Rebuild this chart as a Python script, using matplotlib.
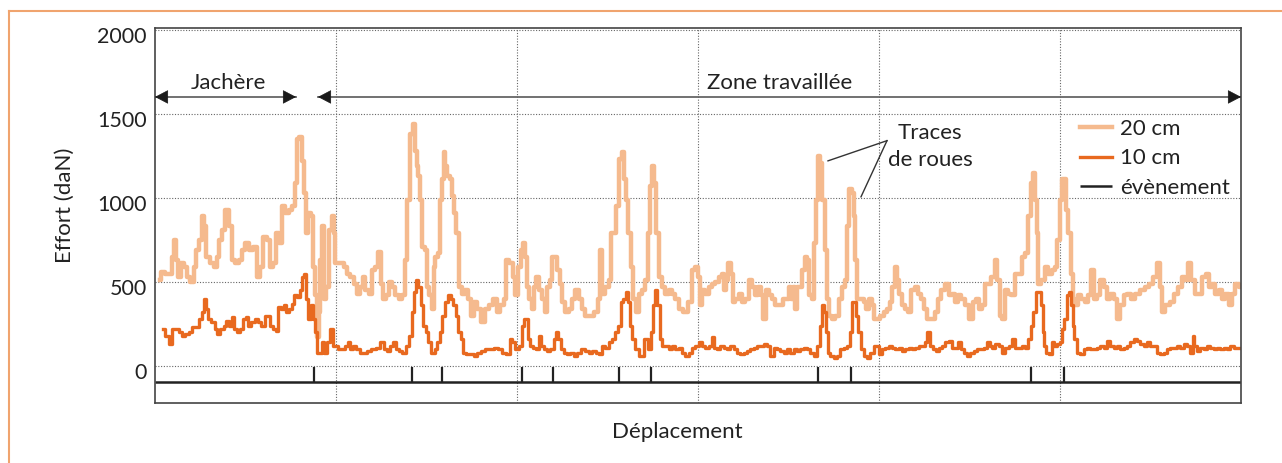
import matplotlib
matplotlib.use("Agg")
import matplotlib.pyplot as plt
import matplotlib.transforms as mtransforms
from matplotlib.lines import Line2D

# Effort de traction le long du déplacement (position en unités arbitraires, 0..1086)
light_20cm = [
    (5, 510), (7, 560), (12, 550), (16, 550), (17, 650), (20, 750), (22, 630), (24, 530),
    (28, 610), (30, 590), (33, 530), (37, 500), (40, 590), (42, 690), (45, 750), (48, 890),
    (50, 830), (52, 650), (57, 610), (60, 590), (63, 650), (65, 750), (68, 810), (72, 930),
    (75, 830), (78, 630), (82, 610), (85, 630), (88, 690), (92, 730), (95, 690), (100, 710),
    (103, 530), (106, 590), (110, 770), (113, 750), (116, 590), (119, 610), (122, 790), (126, 730),
    (128, 950), (132, 910), (135, 930), (138, 950), (141, 1090), (142, 1350), (145, 1360), (148, 1220),
    (150, 1030), (152, 790), (154, 910), (157, 890), (158, 590), (161, 420), (163, 170), (164, 320),
    (166, 630), (167, 830), (168, 830), (170, 400), (172, 470), (175, 810), (178, 890), (179, 790),
    (180, 610), (187, 610), (190, 590), (193, 550), (197, 530), (200, 490), (203, 430), (207, 470),
    (208, 530), (212, 450), (215, 430), (218, 570), (222, 590), (224, 680), (227, 490), (229, 400),
    (232, 420), (235, 500), (238, 470), (242, 420), (245, 400), (248, 420), (251, 630), (253, 990),
    (256, 1380), (259, 1440), (261, 1280), (262, 1190), (264, 1130), (266, 990), (268, 710), (271, 690),
    (272, 470), (275, 420), (278, 340), (279, 590), (281, 650), (284, 670), (286, 990), (288, 1110),
    (289, 1270), (291, 1190), (293, 1130), (296, 1110), (298, 1010), (300, 910), (302, 790), (305, 470),
    (308, 430), (312, 450), (314, 400), (318, 300), (320, 380), (324, 340), (328, 260), (332, 340),
    (336, 360), (340, 400), (343, 320), (347, 360), (350, 400), (352, 630), (356, 610), (359, 530),
    (361, 420), (364, 590), (367, 690), (369, 730), (371, 650), (372, 470), (375, 400), (378, 340),
    (380, 470), (382, 530), (385, 450), (388, 400), (391, 320), (393, 470), (396, 510), (398, 650),
    (401, 650), (403, 570), (406, 490), (408, 380), (412, 320), (415, 340), (418, 400), (422, 450),
    (425, 400), (428, 340), (432, 300), (437, 300), (441, 320), (444, 400), (446, 690), (448, 430),
    (452, 470), (455, 510), (457, 790), (460, 790), (462, 950), (465, 1230), (468, 1270), (470, 1110),
    (472, 990), (474, 790), (477, 590), (479, 400), (482, 320), (485, 430), (488, 450), (492, 510),
    (493, 790), (496, 1070), (498, 1190), (500, 1090), (502, 790), (505, 530), (508, 470), (512, 430),
    (515, 450), (518, 430), (522, 400), (526, 340), (530, 320), (535, 380), (538, 570), (542, 590),
    (543, 530), (546, 360), (548, 450), (552, 430), (555, 470), (558, 490), (562, 500), (565, 530),
    (568, 550), (570, 450), (572, 510), (574, 610), (577, 550), (578, 380), (582, 400), (585, 430),
    (588, 380), (592, 400), (595, 510), (598, 470), (602, 420), (604, 470), (607, 420), (609, 280),
    (612, 450), (615, 420), (618, 400), (622, 360), (626, 360), (629, 400), (632, 400), (635, 470),
    (637, 400), (639, 470), (641, 340), (643, 470), (646, 470), (648, 570), (651, 650), (653, 630),
    (655, 420), (658, 400), (660, 730), (662, 990), (663, 1250), (666, 1210), (668, 990), (669, 990),
    (671, 690), (672, 400), (675, 300), (678, 280), (682, 300), (685, 400), (688, 470), (691, 510),
    (693, 830), (695, 1050), (698, 1030), (699, 890), (701, 630), (703, 400), (707, 400), (710, 380),
    (712, 340), (715, 400), (718, 360), (720, 280), (723, 280), (727, 300), (730, 320), (733, 340),
    (736, 380), (738, 470), (741, 590), (743, 510), (745, 430), (748, 360), (751, 340), (754, 320),
    (758, 450), (761, 470), (764, 430), (767, 400), (770, 340), (773, 280), (778, 280), (781, 320),
    (784, 400), (788, 450), (792, 490), (795, 420), (798, 430), (801, 380), (804, 420), (808, 400),
    (812, 360), (816, 280), (819, 380), (822, 400), (825, 340), (828, 360), (832, 490), (834, 490),
    (838, 530), (841, 630), (843, 510), (846, 300), (848, 280), (851, 450), (854, 430), (858, 420),
    (861, 550), (865, 550), (868, 650), (872, 670), (874, 890), (877, 1090), (878, 1150), (881, 990),
    (882, 790), (884, 490), (888, 510), (891, 590), (895, 550), (898, 570), (901, 590), (903, 750),
    (906, 990), (908, 1110), (910, 1110), (912, 930), (914, 790), (917, 550), (918, 400), (921, 360),
    (924, 420), (928, 400), (931, 380), (934, 420), (938, 570), (940, 400), (943, 420), (947, 510),
    (950, 470), (953, 400), (957, 430), (960, 400), (963, 280), (967, 360), (970, 420), (974, 430),
    (978, 400), (982, 430), (987, 450), (992, 470), (996, 490), (1000, 530), (1003, 610), (1006, 470),
    (1008, 320), (1012, 360), (1017, 380), (1021, 430), (1025, 470), (1028, 530), (1032, 510), (1034, 610),
    (1038, 510), (1041, 430), (1045, 430), (1049, 530), (1052, 550), (1055, 470), (1058, 490), (1062, 430),
    (1065, 450), (1068, 400), (1072, 430), (1075, 360), (1078, 430), (1082, 490), (1085, 470),
]

dark_10cm = [
    (8, 220), (12, 180), (15, 130), (18, 220), (22, 220), (25, 200), (28, 180), (32, 190),
    (35, 200), (38, 230), (42, 230), (45, 280), (48, 320), (50, 400), (52, 340), (54, 280),
    (58, 260), (61, 220), (63, 190), (67, 220), (70, 240), (72, 270), (75, 240), (78, 290),
    (80, 220), (83, 200), (86, 220), (89, 280), (92, 290), (94, 240), (98, 260), (101, 280),
    (104, 260), (108, 240), (111, 300), (113, 300), (116, 240), (119, 220), (122, 210), (124, 350),
    (128, 340), (130, 360), (132, 320), (135, 340), (138, 370), (140, 420), (143, 410), (146, 450),
    (148, 530), (150, 550), (152, 400), (153, 280), (155, 280), (157, 360), (158, 280), (161, 200),
    (162, 80), (165, 80), (168, 140), (170, 80), (173, 140), (177, 220), (179, 120), (181, 120),
    (184, 100), (188, 100), (192, 120), (193, 140), (196, 100), (199, 120), (202, 100), (207, 80),
    (210, 80), (214, 90), (218, 100), (223, 110), (227, 140), (230, 100), (233, 90), (237, 120),
    (239, 140), (242, 100), (245, 90), (249, 80), (252, 120), (255, 180), (258, 320), (260, 440),
    (262, 510), (264, 470), (267, 360), (269, 240), (272, 200), (274, 140), (278, 80), (281, 100),
    (283, 140), (286, 200), (288, 300), (291, 380), (294, 420), (297, 400), (299, 360), (302, 300),
    (304, 200), (307, 160), (309, 80), (312, 70), (317, 70), (320, 60), (324, 80), (328, 90),
    (332, 100), (337, 100), (341, 110), (345, 100), (349, 80), (353, 70), (356, 160), (358, 140),
    (362, 100), (365, 120), (368, 240), (370, 280), (372, 280), (373, 160), (376, 120), (379, 110),
    (382, 100), (385, 180), (387, 120), (390, 100), (393, 90), (397, 100), (400, 160), (402, 200),
    (404, 160), (407, 100), (410, 80), (413, 70), (417, 80), (420, 60), (423, 80), (428, 100),
    (432, 90), (435, 80), (439, 90), (442, 80), (446, 70), (448, 120), (452, 110), (455, 140),
    (458, 160), (462, 200), (464, 240), (467, 380), (469, 400), (472, 440), (473, 380), (476, 240),
    (478, 160), (482, 100), (485, 60), (488, 60), (490, 160), (492, 160), (494, 100), (497, 200),
    (499, 360), (501, 450), (503, 360), (506, 160), (508, 120), (512, 120), (515, 100), (518, 120),
    (522, 100), (525, 110), (528, 80), (532, 60), (535, 80), (538, 110), (542, 120), (545, 140),
    (548, 120), (552, 110), (555, 120), (558, 170), (560, 110), (563, 100), (567, 120), (570, 110),
    (573, 100), (577, 120), (580, 100), (583, 80), (587, 70), (590, 80), (593, 90), (597, 100),
    (600, 110), (603, 120), (607, 120), (610, 130), (613, 120), (617, 60), (620, 110), (623, 100),
    (627, 90), (630, 80), (633, 100), (637, 80), (640, 100), (643, 90), (647, 100), (650, 110),
    (653, 100), (657, 80), (660, 60), (663, 120), (666, 240), (668, 360), (670, 320), (672, 200),
    (673, 80), (677, 60), (680, 50), (683, 60), (687, 100), (690, 110), (693, 120), (696, 200),
    (698, 380), (700, 380), (702, 300), (704, 200), (707, 100), (710, 60), (713, 50), (717, 80),
    (720, 120), (722, 120), (725, 70), (728, 100), (732, 110), (735, 120), (738, 110), (742, 100),
    (745, 110), (748, 90), (752, 100), (755, 110), (758, 100), (762, 110), (765, 120), (768, 120),
    (771, 140), (773, 200), (776, 120), (779, 100), (782, 90), (785, 110), (788, 120), (792, 140),
    (795, 150), (798, 110), (802, 110), (804, 140), (807, 100), (810, 80), (813, 60), (817, 80),
    (820, 90), (823, 100), (827, 100), (830, 110), (833, 140), (836, 120), (838, 110), (842, 130),
    (845, 120), (848, 80), (852, 110), (855, 120), (858, 160), (862, 110), (865, 110), (868, 120),
    (872, 110), (874, 160), (877, 240), (879, 320), (882, 440), (884, 440), (887, 360), (888, 200),
    (890, 120), (892, 80), (895, 70), (898, 140), (900, 120), (904, 130), (905, 140), (908, 220),
    (910, 280), (913, 420), (915, 440), (917, 360), (918, 240), (920, 160), (923, 80), (927, 70),
    (930, 100), (933, 110), (937, 100), (940, 100), (943, 110), (947, 120), (950, 110), (953, 150),
    (957, 120), (960, 110), (963, 120), (967, 100), (970, 110), (973, 120), (977, 140), (980, 160),
    (983, 150), (987, 130), (990, 120), (993, 140), (997, 120), (1000, 120), (1003, 80), (1007, 70),
    (1010, 80), (1013, 100), (1017, 110), (1020, 110), (1023, 120), (1027, 110), (1030, 130), (1033, 120),
    (1037, 80), (1038, 180), (1040, 120), (1043, 90), (1047, 110), (1050, 100), (1053, 120), (1057, 110),
    (1060, 100), (1063, 110), (1067, 100), (1070, 110), (1073, 100), (1077, 120), (1080, 110), (1085, 110),
]

# positions des évènements (marques sur la ligne du bas)
events = [159, 257, 287, 367, 398, 464, 496, 663, 696, 876, 909]
event_level = -95

x_max = 1086
grid_step = 181
y_ticks = [0, 500, 1000, 1500, 2000]

# zones et annotation
jachere_span = (0, 141)
zone_span = (163, x_max)
zone_arrow_y = 1600
traces_junction = (732, 1340)
traces_peaks = [(673, 1220), (706, 1006)]

LIGHT = "#F5BA8E"
DARK = "#E8691F"
INK = "#222222"
FS = 16

plt.rcParams["font.family"] = ["Lato", "DejaVu Sans"]

fig = plt.figure(figsize=(12.82, 4.63), dpi=100)
ax = fig.add_axes([155 / 1282, 1 - 403 / 463, 1086 / 1282, 375 / 463])

lx, ly = zip(*light_20cm)
dx, dy = zip(*dark_10cm)
ax.plot(lx, ly, color=LIGHT, lw=3.2, drawstyle="steps-mid", label="20 cm")
ax.plot(dx, dy, color=DARK, lw=2.4, drawstyle="steps-mid", label="10 cm")
ax.hlines(event_level, 0, x_max, color=INK, lw=1.8, label="évènement")
ax.vlines(events, event_level, -5, color=INK, lw=1.6)

ax.set_xlim(0, x_max)
ax.set_ylim(-220, 2010)
ax.set_xticks([grid_step * k for k in range(1, 6)])
ax.set_xticklabels([])
ax.set_yticks(y_ticks)
ax.grid(True, ls=(0, (1, 1.5)), color="#666666", lw=0.8)
ax.tick_params(axis="x", length=0)
ax.tick_params(axis="y", length=0, pad=6, labelsize=15.5, labelcolor=INK)
offset = mtransforms.ScaledTranslation(0, -0.05, fig.dpi_scale_trans)
for lbl in ax.get_yticklabels():
    lbl.set_transform(lbl.get_transform() + offset)
for sp in ax.spines.values():
    sp.set_color("#444444")
    sp.set_linewidth(1.2)

ax.set_ylabel("Effort (daN)", fontsize=FS, color=INK, va="center")
ax.yaxis.set_label_coords(-0.083, 0.528)
ax.set_xlabel("Déplacement", fontsize=FS, color=INK, va="center")
ax.xaxis.set_label_coords(0.481, -0.077)

# flèches Jachère / Zone travaillée
for a, b in (jachere_span, zone_span):
    ax.plot([a, b], [zone_arrow_y, zone_arrow_y], color="#666666", lw=1.3)
    for tip, back in ((a, a + 12), (b, b - 12)):
        ax.annotate("", xy=(tip, zone_arrow_y), xytext=(back, zone_arrow_y),
                    arrowprops=dict(arrowstyle="-|>,head_length=0.86,head_width=0.45",
                                    color="#1a1a1a", lw=0.5, shrinkA=0, shrinkB=0))
ax.text(73, 1680, "Jachère", fontsize=FS, color=INK, ha="center", va="center")
ax.text(625, 1680, "Zone travaillée", fontsize=FS, color=INK, ha="center", va="center")

# traces de roues
ax.text(775, 1305, "Traces\nde roues", fontsize=FS, color=INK, ha="center", va="center",
        multialignment="center", linespacing=1.45)
for px, py in traces_peaks:
    ax.plot([traces_junction[0], px], [traces_junction[1], py], color="#333333", lw=1.0)

ax.legend(loc="upper left", bbox_to_anchor=(0.852, 0.757), frameon=False, fontsize=FS,
          handlelength=1.45, handletextpad=0.35, labelspacing=0.42, borderpad=0, borderaxespad=0,
          labelcolor=INK)

# cadre orange
fig.add_artist(Line2D([9 / 1282, 1], [1 - 11 / 463] * 2, transform=fig.transFigure,
                      color="#F0A46E", lw=1.5))
fig.add_artist(Line2D([9 / 1282] * 2, [0, 1 - 11 / 463], transform=fig.transFigure,
                      color="#F0A46E", lw=1.5))

fig.savefig("out.png", dpi=100)
